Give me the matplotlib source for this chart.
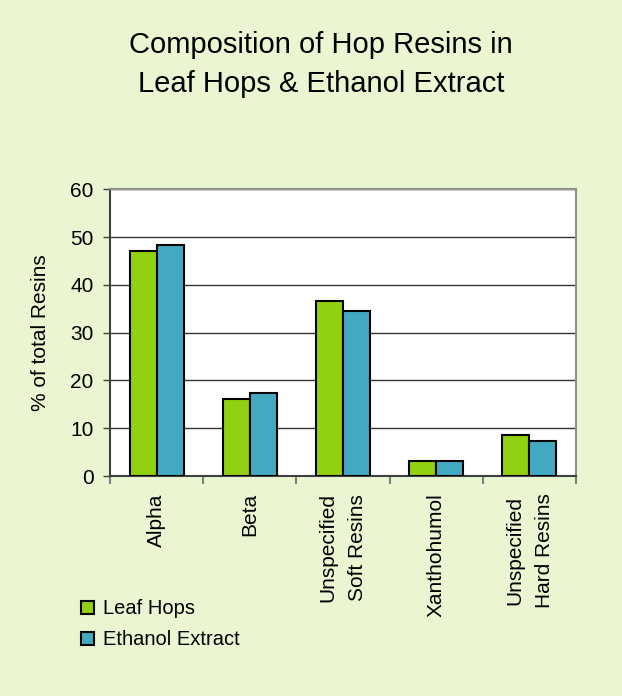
import matplotlib.pyplot as plt
import numpy as np

plt.rcParams['font.family'] = ['Liberation Sans', 'DejaVu Sans']

# Data
categories = ['Alpha', 'Beta', 'Unspecified\nSoft Resins', 'Xanthohumol', 'Unspecified\nHard Resins']
leaf_hops = [47.1, 16.2, 36.7, 3.2, 8.6]
ethanol_extract = [48.4, 17.4, 34.6, 3.2, 7.4]
series_names = ['Leaf Hops', 'Ethanol Extract']

bg = '#EAF5D2'
leaf_color = '#92D111'
eth_color = '#43A9C1'

fig = plt.figure(figsize=(6.22, 6.96), dpi=100, facecolor=bg)
ax = fig.add_axes([0.177, 0.316, 0.749, 0.412])
ax.set_facecolor('white')

x = np.arange(len(categories))
w = 0.29
b1 = ax.bar(x - w / 2, leaf_hops, w, color=leaf_color, edgecolor='black', linewidth=1.5,
            label=series_names[0], zorder=3)
b2 = ax.bar(x + w / 2, ethanol_extract, w, color=eth_color, edgecolor='black', linewidth=1.5,
            label=series_names[1], zorder=3)

ax.set_xlim(-0.5, len(categories) - 0.5)
ax.set_ylim(0, 60)
ax.set_yticks(range(0, 61, 10))
ax.tick_params(axis='y', labelsize=15, direction='out', length=5, color='#404040', width=1, pad=7)
ax.grid(axis='y', color='#333333', linewidth=1, zorder=0)

# category ticks sit between groups, labels go in the middle
ax.set_xticks(np.arange(-0.5, len(categories), 1.0))
ax.set_xticklabels([])
ax.tick_params(axis='x', direction='out', length=6, color='#808080', width=1.5)
for i, name in enumerate(categories):
    ax.text(i, -3.6, name, rotation=90, ha='center', va='top', fontsize=15,
            linespacing=1.7)

ax.spines['left'].set_color('#404040')
ax.spines['bottom'].set_color('#404040')
ax.spines['top'].set_color('#909090')
ax.spines['right'].set_color('#909090')
for s in ax.spines.values():
    s.set_linewidth(1.5)

ax.set_ylabel('% of total Resins', fontsize=15)
ax.yaxis.set_label_coords(-0.13, 0.5)

fig.text(0.516, 0.908, 'Composition of Hop Resins in\nLeaf Hops & Ethanol Extract',
         ha='center', va='center', fontsize=21, linespacing=1.5)

fig.legend(handles=[b1, b2], labels=series_names, loc='upper left',
           bbox_to_anchor=(0.131, 0.139), frameon=False, fontsize=14.5,
           handlelength=0.63, handleheight=0.63, handletextpad=0.45, labelspacing=0.6,
           borderpad=0, borderaxespad=0)

fig.savefig('out.png', dpi=100, facecolor=bg)
